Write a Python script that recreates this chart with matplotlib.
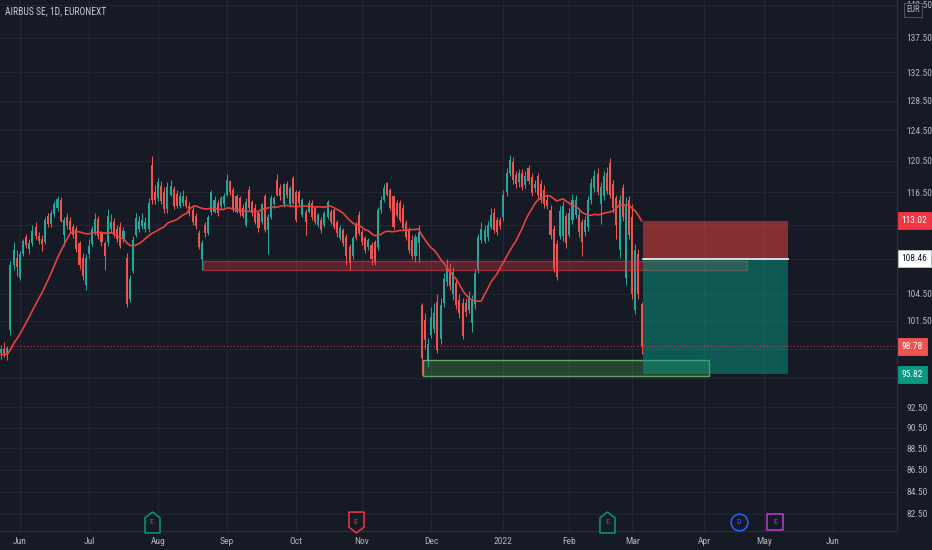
import numpy as np
import pandas as pd
import matplotlib
matplotlib.use("Agg")
import matplotlib.pyplot as plt
from matplotlib import font_manager
from matplotlib.patches import Rectangle
from matplotlib.path import Path
import matplotlib.transforms as mtransforms
from matplotlib.ticker import FixedLocator, NullLocator, FuncFormatter, FixedFormatter

# ---------------- data ----------------
title = "AIRBUS SE, 1D, EURONEXT"

opens = [
    98.0, 98.5, 97.9, 100.5, 107.8, 108.6, 106.3, 109.0, 111.0, 109.6,
    110.3, 112.2, 111.2, 110.8, 110.5, 113.6, 112.6, 113.8, 114.6, 115.5,
    111.3, 113.4, 113.0, 112.2, 112.0, 110.3, 108.6, 105.5, 109.0, 110.2,
    111.6, 113.2, 111.5, 110.3, 110.4, 112.0, 112.8, 112.0, 112.2, 110.8,
    108.6, 103.9, 107.1, 111.3, 112.0, 112.4, 112.0, 112.0, 120.0, 116.6,
    115.8, 117.3, 116.6, 114.4, 116.2, 116.9, 116.3, 114.8, 115.2, 115.6,
    114.8, 114.3, 113.6, 111.5, 108.4, 112.5, 111.5, 114.1, 114.1, 115.2,
    114.8, 115.0, 116.2, 117.9, 116.8, 116.0, 115.8, 114.6, 112.5, 116.8,
    115.3, 114.6, 113.9, 112.8, 116.0, 111.9, 113.4, 115.0, 118.1, 117.1,
    115.0, 117.5, 115.0, 118.3, 116.6, 116.6, 113.7, 114.1, 114.1, 115.2,
    114.6, 112.5, 113.1, 112.5, 113.4, 114.1, 114.3, 112.8, 110.9, 111.9,
    111.1, 109.9, 108.8, 112.5, 113.7, 111.6, 110.9, 109.9, 110.1, 110.4,
    109.9, 114.3, 115.6, 117.7, 116.8, 116.0, 115.2, 115.2, 114.6, 112.7,
    111.9, 110.7, 108.8, 110.3, 103.2, 101.6, 97.2, 100.0, 100.6, 103.6,
    99.5, 103.4, 105.8, 107.2, 104.4, 105.7, 103.8, 103.5, 103.4, 102.7,
    101.3, 103.3, 107.2, 110.7, 110.6, 111.1, 112.3, 113.9, 113.1, 113.1,
    113.4, 116.5, 119.0, 120.3, 118.7, 117.8, 119.0, 117.4, 119.6, 118.4,
    117.0, 118.5, 117.5, 116.8, 115.6, 114.3, 112.0, 110.2, 111.2, 111.2,
    113.6, 111.3, 113.1, 113.7, 113.7, 112.8, 111.7, 112.2, 115.5, 117.0,
    118.8, 115.0, 116.0, 119.0, 120.2, 117.5, 115.8, 109.5, 117.0, 106.3,
    115.6, 113.5, 102.7, 109.0, 103.3,
]
highs = [
    98.9, 99.2, 98.8, 108.2, 110.5, 109.5, 109.4, 110.8, 111.4, 110.8,
    112.5, 112.8, 111.6, 111.3, 113.5, 114.0, 114.3, 115.4, 116.0, 115.9,
    113.5, 114.0, 113.4, 112.6, 112.4, 110.6, 109.2, 109.0, 110.8, 112.4,
    114.0, 113.6, 111.8, 110.6, 114.4, 113.8, 113.3, 112.5, 112.8, 112.2,
    109.2, 106.6, 111.2, 114.0, 113.6, 114.0, 113.4, 115.8, 121.1, 117.4,
    118.3, 117.9, 117.2, 117.8, 118.0, 117.3, 116.8, 116.5, 116.8, 116.2,
    115.3, 114.9, 114.0, 111.9, 110.7, 112.9, 113.7, 116.8, 116.0, 115.6,
    116.1, 116.4, 118.8, 118.1, 117.2, 116.3, 116.1, 115.0, 115.8, 117.3,
    115.6, 115.0, 114.3, 115.2, 116.3, 113.8, 116.2, 116.1, 118.8, 117.5,
    117.7, 117.9, 117.3, 118.6, 116.8, 116.8, 115.8, 114.4, 115.6, 115.6,
    114.8, 114.0, 113.4, 114.2, 115.6, 114.4, 114.6, 113.1, 112.5, 112.1,
    111.4, 110.2, 111.2, 112.9, 114.2, 112.0, 111.2, 110.9, 110.4, 110.7,
    114.7, 116.0, 117.5, 117.8, 117.1, 116.2, 115.6, 115.6, 115.0, 113.1,
    112.3, 111.3, 111.4, 112.5, 103.4, 102.3, 99.6, 103.0, 103.5, 104.4,
    104.0, 106.8, 108.5, 108.0, 107.5, 106.3, 104.4, 104.0, 104.0, 104.8,
    104.3, 107.3, 111.4, 112.8, 112.5, 113.0, 114.5, 114.5, 113.5, 113.5,
    116.8, 119.6, 121.3, 121.0, 119.2, 119.5, 119.5, 119.2, 120.0, 118.9,
    118.0, 119.0, 118.0, 117.4, 116.2, 114.9, 112.5, 110.7, 114.8, 115.4,
    114.0, 114.6, 116.3, 116.2, 114.3, 113.2, 113.6, 116.1, 118.3, 119.3,
    119.6, 117.8, 119.2, 119.7, 120.9, 118.0, 116.2, 116.2, 117.6, 115.9,
    116.0, 115.0, 110.2, 109.6, 103.6,
]
lows = [
    97.4, 97.6, 97.3, 100.0, 107.2, 106.5, 106.0, 108.8, 109.8, 109.0,
    110.0, 110.8, 110.2, 109.4, 110.2, 112.2, 112.2, 113.5, 114.2, 112.8,
    110.0, 112.0, 111.5, 110.9, 109.3, 107.3, 106.0, 104.9, 108.6, 110.0,
    111.3, 110.8, 110.0, 107.2, 110.0, 111.5, 111.0, 110.4, 109.7, 110.5,
    103.0, 103.6, 106.8, 111.0, 111.6, 112.0, 111.7, 111.6, 115.0, 115.0,
    115.4, 115.0, 114.0, 114.0, 116.0, 114.4, 114.5, 114.5, 114.8, 114.5,
    113.6, 112.5, 112.0, 109.6, 107.2, 111.1, 111.3, 113.7, 113.9, 113.6,
    114.4, 114.7, 116.0, 116.2, 114.1, 113.9, 113.6, 113.3, 112.2, 114.3,
    113.6, 112.6, 111.7, 112.6, 111.6, 109.0, 113.2, 114.6, 116.0, 115.6,
    114.7, 115.8, 114.7, 115.0, 112.8, 114.8, 113.4, 111.3, 113.9, 113.1,
    112.6, 112.2, 111.5, 112.3, 113.2, 112.6, 112.0, 111.1, 110.7, 110.0,
    107.8, 107.2, 108.4, 110.7, 111.3, 110.1, 109.2, 109.5, 107.8, 107.7,
    109.5, 114.0, 115.3, 116.0, 114.3, 112.0, 113.4, 112.8, 111.9, 110.7,
    109.2, 108.4, 108.1, 108.1, 95.8, 98.5, 96.6, 99.6, 100.2, 98.0,
    99.0, 103.0, 105.3, 104.9, 103.8, 102.8, 101.8, 99.5, 102.0, 102.3,
    100.3, 102.8, 106.8, 110.3, 110.3, 110.6, 112.0, 111.5, 111.3, 112.0,
    113.0, 116.0, 118.5, 117.5, 117.0, 117.2, 116.8, 117.0, 117.5, 116.0,
    116.6, 115.8, 115.2, 114.6, 114.4, 110.8, 107.0, 106.0, 110.8, 110.6,
    109.8, 111.0, 112.6, 113.3, 111.1, 108.8, 111.2, 111.8, 115.0, 116.6,
    116.2, 112.6, 115.6, 116.3, 115.8, 114.0, 110.8, 108.6, 113.0, 105.5,
    110.8, 103.9, 102.2, 103.9, 97.9,
]
closes = [
    98.5, 97.9, 98.6, 107.8, 109.5, 107.5, 109.0, 110.6, 110.1, 110.3,
    111.8, 111.2, 110.6, 110.2, 113.1, 112.6, 113.9, 115.0, 115.7, 113.0,
    113.1, 112.5, 111.9, 111.3, 109.6, 107.7, 106.5, 108.6, 110.0, 112.0,
    113.2, 111.2, 110.5, 108.8, 113.6, 112.9, 111.3, 110.8, 110.0, 111.8,
    103.3, 106.1, 110.7, 113.3, 113.0, 113.1, 112.8, 115.2, 115.6, 115.6,
    117.8, 115.4, 114.4, 117.2, 117.3, 114.8, 114.8, 116.0, 116.1, 114.8,
    114.0, 112.8, 112.4, 109.9, 110.3, 111.5, 113.4, 116.6, 115.6, 114.0,
    115.8, 116.0, 118.1, 116.6, 114.3, 114.1, 114.0, 113.6, 115.3, 114.6,
    114.0, 112.8, 112.1, 115.0, 111.9, 113.4, 115.8, 115.8, 116.2, 116.0,
    117.5, 116.2, 117.1, 115.2, 113.1, 115.2, 115.6, 112.8, 115.2, 113.4,
    112.8, 113.7, 111.9, 113.9, 115.3, 112.8, 112.3, 111.5, 112.1, 110.3,
    108.8, 108.0, 110.9, 110.9, 111.5, 110.5, 109.5, 110.7, 108.4, 108.0,
    114.3, 115.6, 117.1, 116.2, 114.6, 112.3, 113.7, 113.1, 112.1, 111.1,
    109.5, 108.8, 111.1, 111.6, 97.5, 99.4, 99.0, 101.9, 102.4, 98.4,
    103.2, 106.2, 107.6, 105.3, 106.9, 103.2, 102.4, 99.8, 102.5, 104.2,
    103.8, 106.8, 111.0, 112.0, 111.9, 112.5, 113.7, 111.9, 111.6, 112.4,
    116.2, 119.0, 120.6, 118.0, 117.6, 119.0, 117.2, 118.5, 117.9, 116.4,
    117.6, 116.2, 115.6, 115.0, 114.8, 111.3, 107.3, 106.4, 114.2, 114.8,
    110.3, 113.9, 115.6, 115.6, 111.6, 110.4, 113.1, 115.6, 117.7, 118.5,
    116.5, 117.2, 118.5, 116.7, 116.2, 114.5, 112.5, 115.6, 113.5, 114.8,
    111.3, 104.4, 109.5, 104.4, 98.78,
]
# closes before the visible window (seed of the 20-bar moving average)
ma_history = [97.9, 98.3, 97.6, 97.2, 97.8, 98.4, 98.0, 97.5, 97.7, 98.2,
              97.9, 97.4, 97.8, 98.1, 97.6, 97.9, 98.2, 97.7, 98.0]
ma_length = 20

month_ticks = [6, 28, 50, 72, 94, 115, 137, 160, 181, 201, 224, 243, 265]
month_labels = ["Jun", "Jul", "Aug", "Sep", "Oct", "Nov", "Dec", "2022",
                "Feb", "Mar", "Apr", "May", "Jun"]
price_ticks = [82.5, 84.5, 86.5, 88.5, 90.5, 92.5, 95.5, 98.5, 101.5, 104.5,
               108.5, 112.5, 116.5, 120.5, 124.5, 128.5, 132.5, 137.5, 142.5]
# grid levels whose axis label is hidden behind a price tag
covered_ticks = [95.5, 98.5, 108.5, 112.5]

# short position tool
pos_bars = [204.5, 250.6]
entry_price = 108.46
stop_price = 113.02
target_price = 95.82
last_price = 98.78

# drawn zones: [start bar, end bar, low, high]
resistance_zone = [64.3, 237.6, 107.2, 108.2]
support_zone = [134.4, 225.5, 95.68, 97.33]

# event flags
event_bars = [48, 113, 193, 235, 246.5]
event_letters = ["E", "E", "E", "D", "E"]
event_kinds = ["up", "down", "up", "div", "future"]

# ---------------- style ----------------
avail = {f.name for f in font_manager.fontManager.ttflist}
FONT = next((f for f in ["Liberation Sans Narrow", "Roboto Condensed"] if f in avail), "Roboto")
plt.rcParams["font.family"] = [FONT, "DejaVu Sans"]

BG = "#161a25"
GRID = "#222633"
TXT = "#b2b5be"
UP = "#26a69a"
DN = "#ef5350"
FS = 6.8

o = np.array(opens)
c = np.array(closes)
h = np.maximum(np.array(highs), np.maximum(o, c))
l = np.minimum(np.array(lows), np.minimum(o, c))
idx = np.arange(len(c))
cols = np.where(c >= o, UP, DN)

fig = plt.figure(figsize=(9.32, 5.5), dpi=100, facecolor=BG)
ax = fig.add_axes([0, 19 / 550, 897 / 932, 531 / 550], facecolor=BG)
ax.set_yscale("log")
ax.set_xlim(-0.32, 285.35)
ax.set_ylim(81.0, 143.2)


def ylab(v, p):
    if any(abs(v - t) < 1e-6 for t in covered_ticks):
        return ""
    return f"{v:.2f}"


ax.yaxis.set_major_locator(FixedLocator(price_ticks))
ax.yaxis.set_minor_locator(NullLocator())
ax.yaxis.set_major_formatter(FuncFormatter(ylab))
ax.xaxis.set_major_locator(FixedLocator(month_ticks))
ax.xaxis.set_major_formatter(FixedFormatter(month_labels))
ax.yaxis.tick_right()
ax.tick_params(axis="both", length=0, colors=TXT, labelsize=FS)
ax.tick_params(axis="y", pad=7)
ax.tick_params(axis="x", pad=4)
ax.grid(True, color=GRID, lw=0.9)
ax.set_axisbelow(True)
for s in ["top", "left"]:
    ax.spines[s].set_visible(False)
for s in ["bottom", "right"]:
    ax.spines[s].set_color("#2a2e39")
    ax.spines[s].set_linewidth(1.0)

# candles
ax.vlines(idx, l, h, colors=cols, lw=0.75, zorder=2)
ax.bar(idx, np.abs(c - o), bottom=np.minimum(o, c), width=0.66, color=cols,
       linewidth=0, zorder=2.1)

# moving average
full = pd.Series(np.concatenate([ma_history, c]))
ma = full.rolling(ma_length).mean().to_numpy()[len(ma_history):]
ax.plot(idx, ma, color="#e8413f", lw=1.2, zorder=3)

# zones
rz = resistance_zone
ax.add_patch(Rectangle((rz[0], rz[2]), rz[1] - rz[0], rz[3] - rz[2],
                       facecolor=(0.95, 0.21, 0.27, 0.30),
                       edgecolor=(0.95, 0.21, 0.27, 0.55), lw=1.0, zorder=3.5))
sz = support_zone
ax.add_patch(Rectangle((sz[0], sz[2]), sz[1] - sz[0], sz[3] - sz[2],
                       facecolor=(0.30, 0.69, 0.31, 0.28),
                       edgecolor=(0.45, 0.78, 0.45, 0.8), lw=1.0, zorder=3.5))

# position tool
ax.add_patch(Rectangle((pos_bars[0], entry_price), pos_bars[1] - pos_bars[0],
                       stop_price - entry_price,
                       facecolor=(0.96, 0.27, 0.25, 0.5), lw=0, zorder=4))
ax.add_patch(Rectangle((pos_bars[0], target_price), pos_bars[1] - pos_bars[0],
                       entry_price - target_price,
                       facecolor=(0.03, 0.60, 0.51, 0.5), lw=0, zorder=4))
ax.plot(pos_bars, [entry_price, entry_price], color="#e6e8ee", lw=1.3, zorder=5)

# last price line
ax.axhline(last_price, color="#f23645", lw=0.8, ls=(0, (1, 2)), alpha=0.85, zorder=6)

# price tags on the axis
ytr = mtransforms.blended_transform_factory(ax.transAxes, ax.transData)


def price_tag(p, fc, tc, ec=None):
    ax.text(1.0 + 4.5 / 897, p, f"{p:.2f}", transform=ytr, ha="left", va="center",
            fontsize=FS, color=tc,
            bbox=dict(boxstyle="square,pad=0.42", fc=fc, ec=ec or fc, lw=0.6),
            clip_on=False, zorder=10)


price_tag(stop_price, "#f23645", "white")
price_tag(entry_price, "#ffffff", "#131722", "#c0c3cc")
price_tag(last_price, "#f05350", "white")
price_tag(target_price, "#089981", "white")

# event flags
xtr = ax.get_xaxis_transform()
ym = (531 - 522) / 531
house_up = Path([(-0.72, -1), (0.72, -1), (0.72, 0.45), (0, 1), (-0.72, 0.45), (-0.72, -1)],
                closed=True)
house_dn = Path([(-0.72, 1), (0.72, 1), (0.72, -0.45), (0, -1), (-0.72, -0.45), (-0.72, 1)],
                closed=True)
kind_style = {
    "up": (house_up, "#089981", 15),
    "down": (house_dn, "#f23645", 15),
    "div": ("o", "#2962ff", 12),
    "future": ("s", "#c13bd6", 11.5),
}
for xb, letter, kind in zip(event_bars, event_letters, event_kinds):
    mk, col, ms = kind_style[kind]
    ax.plot([xb], [ym], marker=mk, ms=ms, mfc=BG, mec=col, mew=1.1, ls="none",
            transform=xtr, clip_on=False, zorder=7)
    ax.text(xb, ym, letter, transform=xtr, ha="center", va="center",
            fontsize=5.8, color=col, zorder=8, clip_on=False)

# title and currency
fig.text(5 / 932, 1 - 11 / 550, title, color="#c8cbd3", fontsize=6.9,
         ha="left", va="center")
fig.text(913 / 932, 1 - 10 / 550, "EUR", color=TXT, fontsize=6.3, ha="center",
         va="center", bbox=dict(boxstyle="square,pad=0.25", fc=BG, ec="#50535e", lw=0.7),
         zorder=20)

fig.savefig("out.png", dpi=100, facecolor=BG)
